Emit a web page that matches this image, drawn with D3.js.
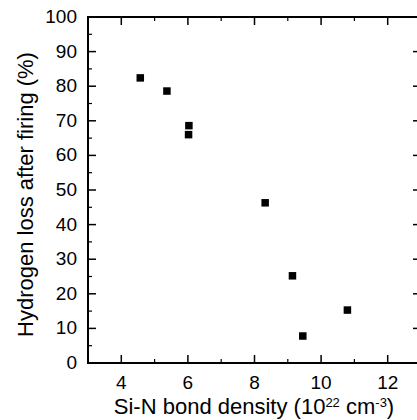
<!DOCTYPE html>
<html>
<head>
  <meta charset="utf-8">
  <script src="https://d3js.org/d3.v7.min.js"></script>
  <style>
    html, body { margin: 0; overflow: hidden; background: #fff; }
    text { font-family: "Liberation Sans", Arial, sans-serif; fill: #000; }
  </style>
</head>
<body>
<svg width="417" height="420"></svg>
<script>
// Si-N bond density (1e22 cm^-3) vs hydrogen loss (%)
const density = [4.57, 5.37, 6.03, 6.02, 8.32, 9.14, 10.79, 9.45];
const hLoss   = [82.4, 78.6, 68.6, 66.0, 46.3, 25.2, 15.3, 7.8];
const xTicks = [4, 6, 8, 10, 12];
const yTicks = [0, 10, 20, 30, 40, 50, 60, 70, 80, 90, 100];

const svg = d3.select("svg");
const mLeft = 88, mRight = 421, mTop = 17, mBottom = 363;

const x = d3.scaleLinear().domain([3, 13]).range([mLeft, mRight]);
const y = d3.scaleLinear().domain([0, 100]).range([mBottom, mTop]);

const g = svg.append("g");

// minor/major ticks, drawn inward on all four sides
const xMinor = d3.range(3, 14, 1);
const yMinor = d3.range(0, 101, 5);

function tickLine(x1, y1, x2, y2, w) {
  g.append("line").attr("x1", x1).attr("y1", y1).attr("x2", x2).attr("y2", y2)
    .attr("stroke", "#000").attr("stroke-width", w);
}

xMinor.forEach(v => {
  const major = v % 2 === 0;
  const len = major ? 8 : 4;
  tickLine(x(v), mBottom, x(v), mBottom - len, major ? 1.5 : 1.2);
  tickLine(x(v), mTop, x(v), mTop + len, major ? 1.5 : 1.2);
});
yMinor.forEach(v => {
  const major = v % 10 === 0;
  const len = major ? 8 : 4;
  tickLine(mLeft, y(v), mLeft + len, y(v), major ? 1.5 : 1.2);
  tickLine(mRight, y(v), mRight - len, y(v), major ? 1.5 : 1.2);
});

// frame
g.append("rect").attr("x", mLeft).attr("y", mTop)
  .attr("width", mRight - mLeft).attr("height", mBottom - mTop)
  .attr("fill", "none").attr("stroke", "#000").attr("stroke-width", 2);

// tick labels
g.selectAll(".xl").data(xTicks).enter().append("text")
  .attr("x", d => x(d)).attr("y", mBottom + 26)
  .attr("text-anchor", "middle").attr("font-size", 19)
  .text(d => d);

g.selectAll(".yl").data(yTicks).enter().append("text")
  .attr("x", mLeft - 11).attr("y", d => y(d) + 6)
  .attr("text-anchor", "end").attr("font-size", 19)
  .text(d => d);

// axis titles
const xt = svg.append("text")
  .attr("x", 254).attr("y", 414)
  .attr("text-anchor", "middle").attr("font-size", 22);
xt.append("tspan").text("Si-N bond density (10");
xt.append("tspan").attr("font-size", 13).attr("dy", -7).text("22");
xt.append("tspan").attr("dy", 7).text(" cm");
xt.append("tspan").attr("font-size", 13).attr("dy", -7).text("-3");
xt.append("tspan").attr("dy", 7).text(")");

svg.append("text")
  .attr("transform", "translate(32.5, 194.5) rotate(-90)")
  .attr("text-anchor", "middle").attr("font-size", 22)
  .text("Hydrogen loss after firing (%)");

// points
const pts = density.map((d, i) => ({ x: d, y: hLoss[i] }));
const s = 7.5;
g.selectAll(".pt").data(pts).enter().append("rect")
  .attr("x", d => x(d.x) - s / 2).attr("y", d => y(d.y) - s / 2)
  .attr("width", s).attr("height", s).attr("fill", "#000");
</script>
</body>
</html>
